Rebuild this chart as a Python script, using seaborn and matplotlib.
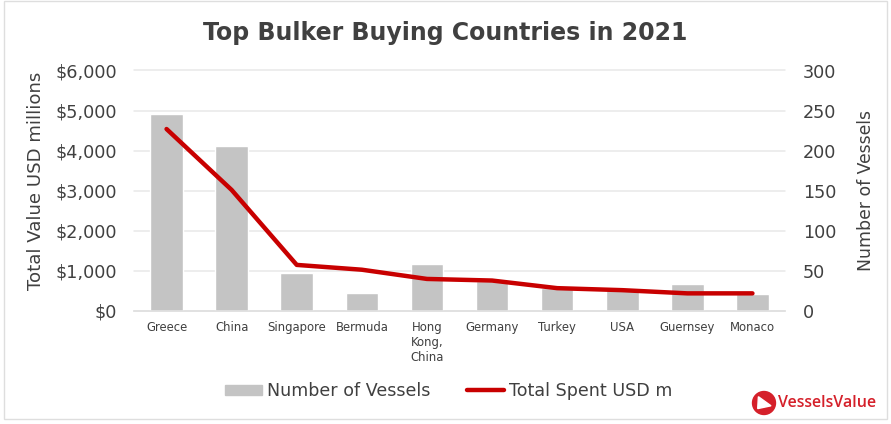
import matplotlib
matplotlib.use('Agg')
import matplotlib.pyplot as plt
from matplotlib.patches import Circle, Polygon, Rectangle
from matplotlib.lines import Line2D
import pandas as pd
import seaborn as sns

# Data
countries = ['Greece', 'China', 'Singapore', 'Bermuda', 'Hong\nKong,\nChina',
             'Germany', 'Turkey', 'USA', 'Guernsey', 'Monaco']
vessels = [246, 206, 47, 22, 59, 38, 29, 26, 34, 21]
spent_usd_m = [4540, 3020, 1150, 1030, 800, 760, 570, 520, 440, 440]
value_ticks = [0, 1000, 2000, 3000, 4000, 5000, 6000]
vessel_ticks = [0, 50, 100, 150, 200, 250, 300]

df = pd.DataFrame({'country': countries, 'vessels': vessels, 'spent': spent_usd_m})

text_col = '#404040'
bar_col = '#c4c4c4'
red = '#c80000'

sns.set_theme(style='white')
plt.rcParams['font.family'] = ['DejaVu Sans']

fig = plt.figure(figsize=(8.91, 4.24), dpi=100)
W, H = 891, 424
ax = fig.add_axes([134 / W, 1 - 311 / H, 651 / W, 240.5 / H])

# Bars on the right hand scale
sns.barplot(data=df, x='country', y='vessels', color=bar_col, saturation=1, width=0.5, ax=ax)
ax2 = ax.twinx()

ax.set_xlim(-0.5, 9.5)
ax.set_ylim(0, 300)
ax.set_yticks(vessel_ticks)
ax.yaxis.tick_right()
ax.yaxis.set_label_position('right')
ax.set_ylabel('Number of Vessels', fontsize=12.4, color=text_col, labelpad=15)
ax.set_xlabel('')
ax.grid(axis='y', color='#e8e8e8', lw=1.1, clip_on=False)
ax.set_axisbelow(True)
ax.tick_params(axis='y', length=0, labelsize=12.7, labelcolor=text_col, pad=13)
ax.tick_params(axis='x', length=0, labelsize=8.4, labelcolor=text_col, pad=7)
for lab in ax.get_xticklabels():
    lab.set_linespacing(1.2)
    lab.set_va('top')
sns.despine(ax=ax, left=True, right=True, top=True)
ax.spines['bottom'].set_color('#e0e0e0')

# Line on the left hand scale
sns.lineplot(data=df, x='country', y='spent', color=red, lw=3.2, sort=False, ax=ax2,
             solid_capstyle='round', solid_joinstyle='round')
ax2.set_ylim(0, 6000)
ax2.set_yticks(value_ticks)
ax2.set_yticklabels([f'${v:,}' for v in value_ticks])
ax2.yaxis.tick_left()
ax2.yaxis.set_label_position('left')
ax2.set_ylabel('Total Value USD millions', fontsize=13.1, color=text_col, labelpad=8)
ax2.yaxis.label.set_y(0.54)
ax2.tick_params(axis='y', length=0, labelsize=12.7, labelcolor=text_col, pad=12)
ax2.grid(False)
for s in ax2.spines.values():
    s.set_visible(False)

fig.text(445 / W, 1 - 33 / H, 'Top Bulker Buying Countries in 2021', ha='center', va='center',
         fontsize=17, fontweight='bold', color=text_col)

# Legend
handles = [Rectangle((0, 0), 1, 1, color=bar_col),
           Line2D([0], [0], color=red, lw=3.2, solid_capstyle='round')]
fig.legend(handles, ['Number of Vessels', 'Total Spent USD m'], loc='center',
           bbox_to_anchor=(449 / W, 1 - 391 / H), ncol=2, frameon=False, fontsize=12.6,
           labelcolor=text_col, handlelength=2.1, handletextpad=0.3, columnspacing=2.1,
           handleheight=0.5)

# Outer frame
fig.add_artist(Rectangle((3.5 / W, 1 - 419 / H), 883 / W, 418 / H, transform=fig.transFigure,
                         fill=False, ec='#dedede', lw=1))

# Logo
logo = fig.add_axes([750 / W, 1 - 417 / H, 28 / W, 28 / H])
logo.set_xlim(-1, 1)
logo.set_ylim(-1, 1)
logo.axis('off')
logo.add_patch(Circle((0, 0), 0.82, color='#d5202a'))
logo.add_patch(Polygon([(-0.4, 0.45), (0.5, -0.2), (-0.45, -0.4)], color='white'))
fig.text(778 / W, 1 - 403 / H, 'VesselsValue', ha='left', va='center', fontsize=11.5,
         color='#d5202a', family='Open Sans', fontweight='semibold')

fig.savefig('out.png', dpi=100)
